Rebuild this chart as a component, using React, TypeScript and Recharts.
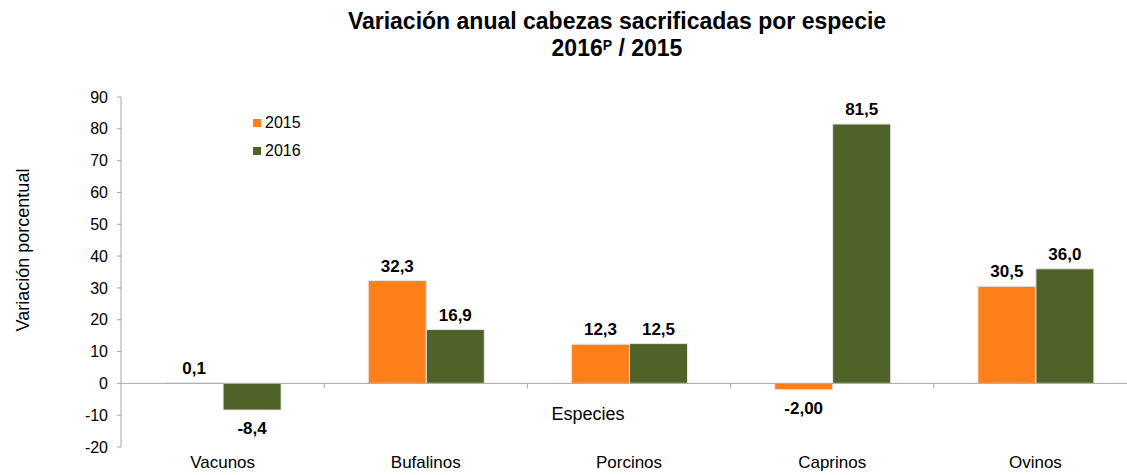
import React from "react"
import { BarChart, Bar, XAxis, YAxis, ReferenceLine, Legend, LabelList } from "recharts"

const categories = ["Vacunos", "Bufalinos", "Porcinos", "Caprinos", "Ovinos"]
const values2015 = [0.1, 32.3, 12.3, -2.0, 30.5]
const values2016 = [-8.4, 16.9, 12.5, 81.5, 36.0]
const labels2015 = ["0,1", "32,3", "12,3", "-2,00", "30,5"]
const labels2016 = ["-8,4", "16,9", "12,5", "81,5", "36,0"]
const yTicks = [-20, -10, 0, 10, 20, 30, 40, 50, 60, 70, 80, 90]

const ORANGE = "#FF7F1B"
const GREEN = "#4F6228"
const AXIS = "#A6A6A6"
const FONT = "'Liberation Sans', Arial, sans-serif"

const CHART_W = 1137
const CHART_H = 475
const MARGIN = { top: 97, right: 0, bottom: 0, left: 0 }
const Y_AXIS_W = 121
const X_AXIS_H = 28
const Y_MIN = -20
const Y_MAX = 90

const plotH = CHART_H - MARGIN.top - MARGIN.bottom - X_AXIS_H
const zeroY = MARGIN.top + (plotH * Y_MAX) / (Y_MAX - Y_MIN)
const bandHalf = (CHART_W - MARGIN.left - MARGIN.right - Y_AXIS_W) / categories.length / 2

const data = categories.map((c, i) => ({
  name: c,
  v2015: values2015[i],
  v2016: values2016[i],
}))

// category names sit below the plot, the little separators sit on the zero line
function CategoryTick(props: any) {
  const { x, y, payload, index } = props
  return (
    <g>
      {index > 0 && (
        <line x1={x - bandHalf} x2={x - bandHalf} y1={zeroY} y2={zeroY + 5} stroke={AXIS} />
      )}
      <text x={x} y={y} dy={13} textAnchor="middle" fill="#000" fontSize={17} fontFamily={FONT}>
        {payload.value}
      </text>
    </g>
  )
}

const makeLabel = (values: number[], labels: string[]) => (props: any) => {
  const { x, y, width, height, index } = props
  const top = Math.min(y, y + height)
  const bottom = Math.max(y, y + height)
  const cx = x + width / 2
  const positive = values[index] >= 0
  return (
    <text
      x={cx}
      y={positive ? top - 9 : bottom + 24}
      textAnchor="middle"
      fill="#000"
      fontSize={17}
      fontWeight="bold"
      fontFamily={FONT}
    >
      {labels[index]}
    </text>
  )
}

function LegendBox() {
  const items = [
    { label: "2015", color: ORANGE },
    { label: "2016", color: GREEN },
  ]
  return (
    <div style={{ fontFamily: FONT, fontSize: 16, color: "#000" }}>
      {items.map((it) => (
        <div key={it.label} style={{ display: "flex", alignItems: "center", height: 28 }}>
          <span style={{ width: 8, height: 8, background: it.color, marginRight: 4, display: "inline-block" }} />
          <span>{it.label}</span>
        </div>
      ))}
    </div>
  )
}

export default function App() {
  return (
    <div
      style={{
        position: "absolute",
        top: 0,
        left: 0,
        width: 1127,
        height: 475,
        overflow: "hidden",
        background: "#fff",
        fontFamily: FONT,
      }}
    >
      <div
        style={{
          position: "absolute",
          top: 8,
          left: 117,
          width: 1000,
          textAlign: "center",
          fontWeight: "bold",
          fontSize: 23,
          lineHeight: "27px",
          color: "#000",
        }}
      >
        <div>Variación anual cabezas sacrificadas por especie</div>
        <div>
          2016<sup style={{ fontSize: 14, verticalAlign: "top", lineHeight: "20px" }}>P</sup> / 2015
        </div>
      </div>
      <BarChart
        width={CHART_W}
        height={CHART_H}
        data={data}
        margin={MARGIN}
        barCategoryGap="21.7%"
        barGap={0}
      >
        <XAxis
          dataKey="name"
          axisLine={false}
          tickLine={false}
          height={X_AXIS_H}
          tick={<CategoryTick />}
          interval={0}
        />
        <YAxis
          width={Y_AXIS_W}
          domain={[Y_MIN, Y_MAX]}
          ticks={yTicks}
          interval={0}
          axisLine={{ stroke: AXIS }}
          tickLine={{ stroke: AXIS }}
          tickSize={4}
          tickMargin={9}
          tick={{ fill: "#000", fontSize: 16, fontFamily: FONT }}
          label={{
            content: (p: any) => {
              const vb = p.viewBox
              const cx = vb.x + 23
              const cy = vb.y + vb.height / 2 - 22
              return (
                <text
                  x={cx}
                  y={cy}
                  transform={`rotate(-90 ${cx} ${cy})`}
                  textAnchor="middle"
                  dominantBaseline="central"
                  fill="#000"
                  fontSize={18}
                  fontFamily={FONT}
                >
                  Variación porcentual
                </text>
              )
            },
          }}
        />
        <ReferenceLine
          y={0}
          stroke={AXIS}
          label={{
            content: (p: any) => {
              const vb = p.viewBox
              return (
                <text
                  x={vb.x + vb.width / 2 - 41}
                  y={vb.y + 37}
                  textAnchor="middle"
                  fill="#000"
                  fontSize={18}
                  fontFamily={FONT}
                >
                  Especies
                </text>
              )
            },
          }}
        />
        <Legend
          layout="vertical"
          align="center"
          verticalAlign="middle"
          wrapperStyle={{ top: 109, left: 253, width: 100 }}
          content={() => <LegendBox />}
        />
        <Bar dataKey="v2015" name="2015" fill={ORANGE} stroke="#E6E6E6" strokeWidth={1} isAnimationActive={false}>
          <LabelList dataKey="v2015" content={makeLabel(values2015, labels2015)} />
        </Bar>
        <Bar dataKey="v2016" name="2016" fill={GREEN} stroke="#E6E6E6" strokeWidth={1} isAnimationActive={false}>
          <LabelList dataKey="v2016" content={makeLabel(values2016, labels2016)} />
        </Bar>
      </BarChart>
    </div>
  )
}
